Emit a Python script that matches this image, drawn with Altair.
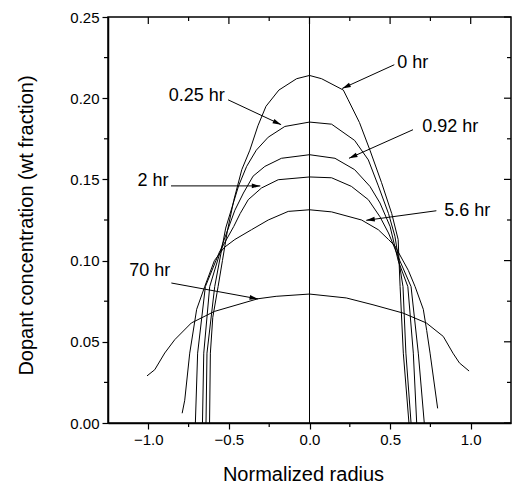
import math
import altair as alt
import pandas as pd

FONT = "Liberation Sans"

# ---- curve data (normalized radius, wt fraction) ----
series_names = ["0 hr", "0.25 hr", "0.92 hr", "2 hr", "5.6 hr", "70 hr"]

x_0 = [-0.620, -0.615, -0.600, -0.567, -0.540, -0.510, -0.470, -0.420, -0.370, -0.320, -0.270, -0.190, -0.080,
       0.000, 0.075, 0.210, 0.240, 0.310, 0.375, 0.447, 0.510, 0.550, 0.562, 0.582, 0.617]
y_0 = [0.000, 0.043, 0.065, 0.084, 0.100, 0.118, 0.137, 0.156, 0.168, 0.183, 0.195, 0.205, 0.212,
       0.214, 0.212, 0.205, 0.199, 0.185, 0.168, 0.148, 0.129, 0.113, 0.084, 0.043, 0.000]

x_025 = [-0.642, -0.636, -0.588, -0.520, -0.440, -0.390, -0.330, -0.256, -0.153, 0.000,
         0.137, 0.280, 0.365, 0.427, 0.490, 0.530, 0.580, 0.598, 0.630]
y_025 = [0.000, 0.043, 0.084, 0.120, 0.146, 0.158, 0.168, 0.176, 0.1826, 0.1853,
         0.184, 0.174, 0.162, 0.146, 0.129, 0.115, 0.084, 0.043, 0.000]

x_092 = [-0.664, -0.656, -0.619, -0.540, -0.463, -0.410, -0.350, -0.277, -0.174, 0.000,
         0.158, 0.280, 0.375, 0.437, 0.500, 0.550, 0.610, 0.644, 0.665]
y_092 = [0.000, 0.043, 0.084, 0.110, 0.131, 0.1416, 0.152, 0.158, 0.163, 0.1652,
         0.163, 0.156, 0.1457, 0.1355, 0.121, 0.100, 0.084, 0.043, 0.000]

x_2 = [-0.708, -0.694, -0.646, -0.560, -0.470, -0.430, -0.380, -0.298, -0.194, 0.000,
       0.137, 0.260, 0.365, 0.437, 0.490, 0.560, 0.630, 0.675, 0.712]
y_2 = [0.000, 0.043, 0.084, 0.105, 0.121, 0.129, 0.1375, 0.1447, 0.1498, 0.1515,
       0.151, 0.1457, 0.1375, 0.127, 0.117, 0.100, 0.084, 0.043, 0.000]

x_56 = [-0.790, -0.774, -0.743, -0.700, -0.650, -0.590, -0.530, -0.463, -0.360, -0.256, -0.132, 0.000,
        0.137, 0.323, 0.427, 0.490, 0.530, 0.613, 0.655, 0.706, 0.727, 0.748, 0.795]
y_56 = [0.006, 0.014, 0.043, 0.070, 0.084, 0.100, 0.108, 0.113, 0.119, 0.125, 0.1303, 0.1313,
        0.130, 0.125, 0.119, 0.113, 0.109, 0.094, 0.084, 0.070, 0.057, 0.043, 0.009]

x_70 = [-1.008, -0.960, -0.898, -0.836, -0.733, -0.590, -0.320, -0.207, 0.000,
        0.228, 0.394, 0.580, 0.725, 0.830, 0.890, 0.930, 0.990]
y_70 = [0.029, 0.0328, 0.0431, 0.0513, 0.0616, 0.0687, 0.0765, 0.078, 0.0794,
        0.077, 0.0728, 0.0677, 0.0616, 0.0533, 0.043, 0.037, 0.032]

curve_x = [x_0, x_025, x_092, x_2, x_56, x_70]
curve_y = [y_0, y_025, y_092, y_2, y_56, y_70]

# ---- annotation labels and arrows (data coordinates) ----
label_text = ["0 hr", "0.25 hr", "0.92 hr", "2 hr", "5.6 hr", "70 hr"]
label_x = [0.641, -0.700, 0.873, -0.971, 0.978, -0.991]
label_y = [0.2217, 0.2015, 0.1820, 0.1488, 0.1303, 0.0938]
arrow_x1 = [0.526, -0.505, 0.642, -0.859, 0.787, -0.857]
arrow_y1 = [0.2206, 0.1990, 0.1806, 0.1460, 0.1307, 0.0862]
arrow_x2 = [0.203, -0.176, 0.245, -0.305, 0.352, -0.319]
arrow_y2 = [0.2060, 0.1837, 0.1630, 0.1460, 0.1248, 0.0764]

x_major = [-1.0, -0.5, 0.0, 0.5, 1.0]
x_minor = [-0.75, -0.25, 0.25, 0.75]
y_major = [0.0, 0.05, 0.10, 0.15, 0.20, 0.25]
y_minor = [0.025, 0.075, 0.125, 0.175, 0.225]

X_DOMAIN = [-1.25, 1.25]
Y_DOMAIN = [0.0, 0.25]
W, H = 403, 406

rows = []
for name, xs_, ys_ in zip(series_names, curve_x, curve_y):
    for i, (xv, yv) in enumerate(zip(xs_, ys_)):
        rows.append({"series": name, "x": xv, "y": yv, "order": i})
curves_df = pd.DataFrame(rows)

# arrowhead rotation from the pixel direction of each arrow
px_per_x = W / (X_DOMAIN[1] - X_DOMAIN[0])
px_per_y = H / (Y_DOMAIN[1] - Y_DOMAIN[0])
angles = []
for a, b, c, d in zip(arrow_x1, arrow_y1, arrow_x2, arrow_y2):
    dxp = (c - a) * px_per_x
    dyp = -(d - b) * px_per_y
    angles.append(math.degrees(math.atan2(dxp, -dyp)) % 360)

ann_df = pd.DataFrame({
    "text": label_text, "lx": label_x, "ly": label_y,
    "x1": arrow_x1, "y1": arrow_y1, "x2": arrow_x2, "y2": arrow_y2, "angle": angles,
})

xs = alt.Scale(domain=X_DOMAIN, nice=False, zero=False)
ys = alt.Scale(domain=Y_DOMAIN, nice=False, zero=False)

x_axis = alt.Axis(values=x_major, format=".1f", tickSize=6, labelPadding=3,
                  title="Normalized radius", titleY=57, titleX=195,
                  titleBaseline="alphabetic", grid=False)
y_axis = alt.Axis(values=y_major, format=".2f", tickSize=6, labelPadding=3,
                  title="Dopant concentration (wt fraction)", titleAngle=270,
                  titleX=-82, titleY=208, titleAlign="center", titleBaseline="middle",
                  grid=False)

curves = alt.Chart(curves_df).mark_line(color="black", strokeWidth=1).encode(
    x=alt.X("x:Q", scale=xs, axis=x_axis),
    y=alt.Y("y:Q", scale=ys, axis=y_axis),
    detail="series:N",
    order="order:Q",
)

zero_line = alt.Chart(pd.DataFrame({"x": [0.0]})).mark_rule(color="black", strokeWidth=1).encode(
    x=alt.X("x:Q", scale=xs),
)

arrows = alt.Chart(ann_df).mark_rule(color="black", strokeWidth=1).encode(
    x=alt.X("x1:Q", scale=xs), y=alt.Y("y1:Q", scale=ys),
    x2="x2:Q", y2="y2:Q",
)

heads = alt.Chart(ann_df).mark_point(
    shape="M0,0L-0.5,1.8L0.5,1.8Z", filled=True, color="black", size=90, opacity=1
).encode(
    x=alt.X("x2:Q", scale=xs), y=alt.Y("y2:Q", scale=ys), angle=alt.Angle("angle:Q", scale=None),
)

labels = alt.Chart(ann_df).mark_text(font=FONT, fontSize=18, color="black",
                                     align="center", baseline="middle").encode(
    x=alt.X("lx:Q", scale=xs), y=alt.Y("ly:Q", scale=ys), text="text:N",
)

# extra ticks: top/right inward, minor ones outward on bottom/left
top_major = alt.Chart(pd.DataFrame({"v": x_major})).mark_rule(color="black", strokeWidth=1.2).encode(
    x=alt.X("v:Q", scale=xs), y=alt.value(0), y2=alt.value(7))
top_minor = alt.Chart(pd.DataFrame({"v": x_minor})).mark_rule(color="black", strokeWidth=1.2).encode(
    x=alt.X("v:Q", scale=xs), y=alt.value(0), y2=alt.value(4))
bot_minor = alt.Chart(pd.DataFrame({"v": x_minor})).mark_rule(color="black", strokeWidth=1.2).encode(
    x=alt.X("v:Q", scale=xs), y=alt.value(H), y2=alt.value(H + 4))
right_major = alt.Chart(pd.DataFrame({"v": y_major})).mark_rule(color="black", strokeWidth=1.2).encode(
    y=alt.Y("v:Q", scale=ys), x=alt.value(W), x2=alt.value(W - 7))
right_minor = alt.Chart(pd.DataFrame({"v": y_minor})).mark_rule(color="black", strokeWidth=1.2).encode(
    y=alt.Y("v:Q", scale=ys), x=alt.value(W), x2=alt.value(W - 4))
left_minor = alt.Chart(pd.DataFrame({"v": y_minor})).mark_rule(color="black", strokeWidth=1.2).encode(
    y=alt.Y("v:Q", scale=ys), x=alt.value(-4), x2=alt.value(0))

chart = alt.layer(
    curves, zero_line, arrows, heads, labels,
    top_major, top_minor, bot_minor, right_major, right_minor, left_minor,
).properties(
    width=W, height=H,
    autosize=alt.AutoSizeParams(type="none"),
    padding={"left": 108, "top": 17, "right": 7, "bottom": 62},
    background="white",
).configure_view(
    stroke="black", strokeWidth=1.5,
).configure_axis(
    domainColor="black", domainWidth=1.5, tickColor="black", tickWidth=1.2,
    labelFont=FONT, labelFontSize=15, labelColor="black",
    titleFont=FONT, titleFontSize=20, titleFontWeight="normal", titleColor="black",
)

chart.save("out.html", embed_options={"renderer": "svg", "actions": False})
